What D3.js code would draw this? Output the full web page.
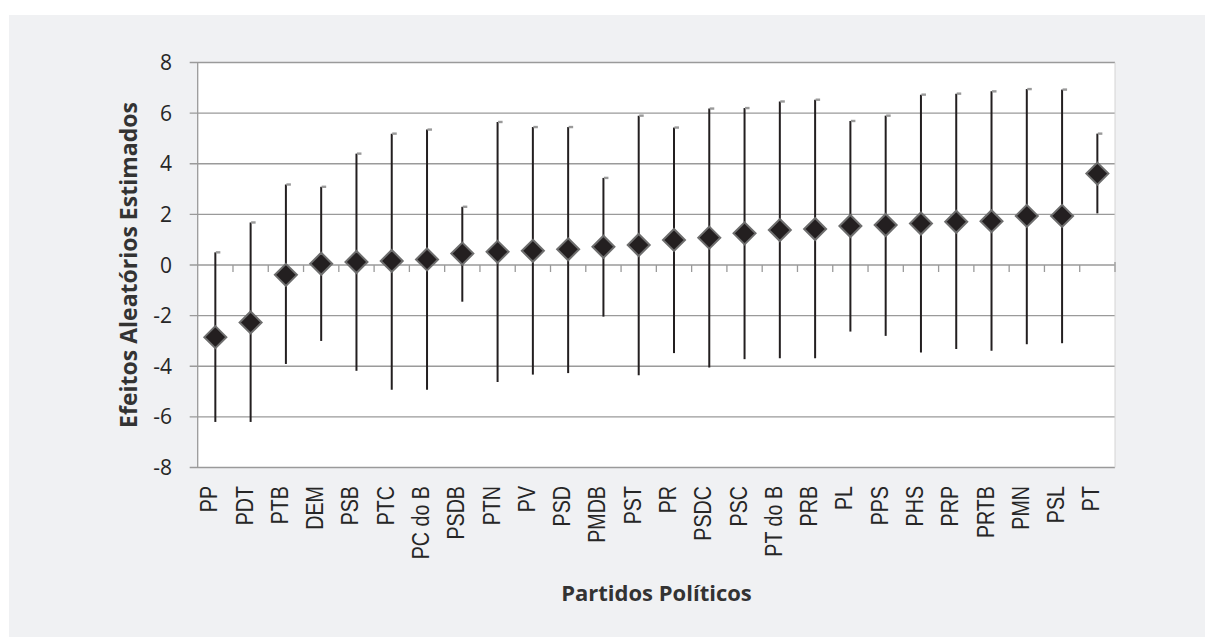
<!DOCTYPE html>
<html>
<head>
<meta charset="utf-8">
<script src="https://cdn.jsdelivr.net/npm/d3@7"></script>
<style>
  body { margin: 0; background: #fff; }
  svg { display: block; }
</style>
</head>
<body>
<script>
// parties ordered by estimated random effect
var parties = ["PP", "PDT", "PTB", "DEM", "PSB", "PTC", "PC do B", "PSDB", "PTN", "PV", "PSD", "PMDB", "PST",
    "PR", "PSDC", "PSC", "PT do B", "PRB", "PL", "PPS", "PHS", "PRP", "PRTB", "PMN", "PSL", "PT"];
var estimates = [-2.85, -2.27, -0.39, 0.05, 0.12, 0.16, 0.22, 0.45, 0.52, 0.56, 0.62, 0.72, 0.79,
    0.99, 1.08, 1.25, 1.38, 1.42, 1.54, 1.58, 1.64, 1.71, 1.73, 1.94, 1.94, 3.61];
var lower = [-6.2, -6.2, -3.91, -3.0, -4.18, -4.93, -4.93, -1.45, -4.62, -4.33, -4.27, -2.04, -4.36,
    -3.48, -4.05, -3.72, -3.68, -3.68, -2.63, -2.8, -3.46, -3.32, -3.39, -3.13, -3.09, 2.04];
var upper = [0.5, 1.68, 3.18, 3.09, 4.4, 5.19, 5.35, 2.3, 5.65, 5.45, 5.45, 3.44, 5.9,
    5.43, 6.18, 6.2, 6.46, 6.53, 5.69, 5.9, 6.73, 6.77, 6.86, 6.95, 6.93, 5.19];
var yTicks = [-8, -6, -4, -2, 0, 2, 4, 6, 8];

(function(){

var width = 1205, height = 637;
var plotLeft = 197.7, plotRight = 1115, plotTop = 62.5, plotBottom = 467.5;

var svg = d3.select("body").append("svg")
    .attr("width", width)
    .attr("height", height);

//gray panel behind the chart
svg.append("rect")
    .attr("x", 9).attr("y", 15)
    .attr("width", width - 9).attr("height", height - 15)
    .attr("fill", "#f0f1f3");

svg.append("rect")
    .attr("x", plotLeft).attr("y", plotTop)
    .attr("width", plotRight - plotLeft).attr("height", plotBottom - plotTop)
    .attr("fill", "#fff");

var x = d3.scaleBand()
    .domain(parties)
    .range([plotLeft, plotRight])
    .padding(0);

var y = d3.scaleLinear()
    .domain([-8, 8])
    .range([plotBottom, plotTop]);

// grid lines (with the small outer tick on the left)
svg.selectAll(".grid")
    .data(yTicks)
    .enter()
    .append("line")
    .attr("class", "grid")
    .attr("x1", plotLeft - 8)
    .attr("x2", plotRight)
    .attr("y1", function(d){ return y(d); })
    .attr("y2", function(d){ return y(d); })
    .attr("stroke", "#9a9a9a")
    .attr("stroke-width", 1.3);

svg.append("line")
    .attr("x1", plotLeft).attr("x2", plotLeft)
    .attr("y1", plotTop).attr("y2", plotBottom)
    .attr("stroke", "#9a9a9a")
    .attr("stroke-width", 1.3);

svg.append("line")
    .attr("x1", plotRight).attr("x2", plotRight)
    .attr("y1", plotTop).attr("y2", plotBottom)
    .attr("stroke", "#d4d4d4")
    .attr("stroke-width", 1);

// category ticks hanging under the zero line
var boundaries = parties.map(function(p){ return x(p); }).slice(1);
boundaries.push(plotRight);
svg.selectAll(".xtick")
    .data(boundaries)
    .enter()
    .append("line")
    .attr("class", "xtick")
    .attr("x1", function(d){ return d; })
    .attr("x2", function(d){ return d; })
    .attr("y1", function(d){ return d === plotRight ? y(0) - 3 : y(0); })
    .attr("y2", y(0) + 7)
    .attr("stroke", "#9a9a9a")
    .attr("stroke-width", 1.3);

svg.selectAll(".ylabel")
    .data(yTicks)
    .enter()
    .append("text")
    .attr("class", "ylabel")
    .attr("x", 172)
    .attr("y", function(d){ return y(d); })
    .attr("dy", "0.36em")
    .attr("text-anchor", "end")
    .style("font-family", "'Open Sans', sans-serif")
    .style("font-size", "21px")
    .attr("fill", "#262626")
    .text(function(d){ return d; });

var idx = d3.range(parties.length);
var cx = function(i){ return x(parties[i]) + x.bandwidth() / 2; };

// error bars
svg.selectAll(".err")
    .data(idx)
    .enter()
    .append("line")
    .attr("class", "err")
    .attr("x1", cx).attr("x2", cx)
    .attr("y1", function(i){ return y(lower[i]); })
    .attr("y2", function(i){ return y(upper[i]); })
    .attr("stroke", "#231f20")
    .attr("stroke-width", 2);

svg.selectAll(".cap")
    .data(idx)
    .enter()
    .append("rect")
    .attr("class", "cap")
    .attr("x", function(i){ return cx(i) + 0.5; })
    .attr("y", function(i){ return y(upper[i]) - 1.2; })
    .attr("width", 4.5)
    .attr("height", 2.4)
    .attr("fill", "#9a9a9a");

svg.selectAll(".pt")
    .data(idx)
    .enter()
    .append("path")
    .attr("class", "pt")
    .attr("d", "M0,-11L11,0L0,11L-11,0Z")
    .attr("transform", function(i){ return "translate(" + cx(i) + "," + y(estimates[i]) + ")"; })
    .attr("fill", "#231f20")
    .attr("stroke", "#6e6e6e")
    .attr("stroke-width", 2);

// rotated party names
svg.selectAll(".xlabel")
    .data(idx)
    .enter()
    .append("text")
    .attr("class", "xlabel")
    .attr("transform", function(i){
        return "translate(" + (cx(i) + 2) + ",486) rotate(-90) scale(0.82,1)";
    })
    .attr("text-anchor", "end")
    .style("font-family", "'Liberation Sans', Arial, sans-serif")
    .style("font-size", "24px")
    .attr("fill", "#262626")
    .text(function(i){ return parties[i]; });

svg.append("text")
    .attr("transform", "translate(137," + y(0) + ") rotate(-90)")
    .attr("text-anchor", "middle")
    .style("font-family", "'Open Sans', sans-serif")
    .style("font-weight", "bold")
    .style("font-size", "23px")
    .attr("fill", "#333")
    .text("Efeitos Aleatórios Estimados");

svg.append("text")
    .attr("x", 656.5)
    .attr("y", 601)
    .attr("text-anchor", "middle")
    .style("font-family", "'Open Sans', sans-serif")
    .style("font-weight", "bold")
    .style("font-size", "22px")
    .attr("fill", "#333")
    .text("Partidos Políticos");

})();
</script>
</body>
</html>
